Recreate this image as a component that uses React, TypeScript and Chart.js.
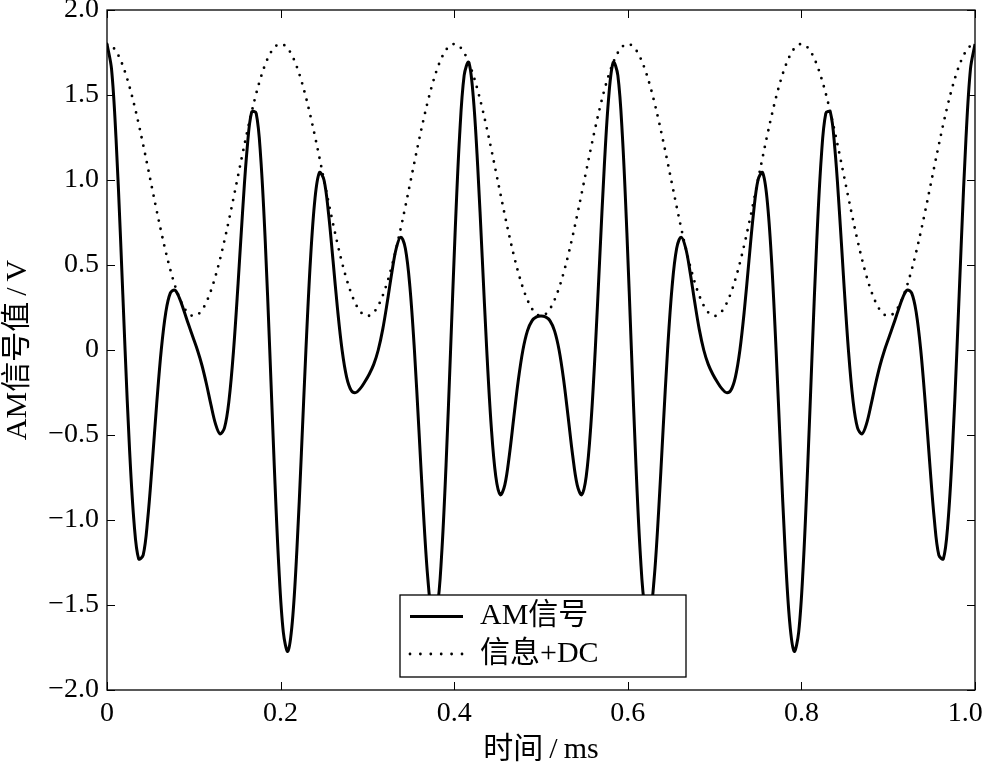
import React, { useEffect, useRef } from "react";
import { Chart, registerables } from "chart.js";

Chart.register(...registerables);

// Sampling step of the traces (ms)
const T_STEP_MS = 1 / 192;

// AM signal (V), t = 0 … 1.0 ms
const AM_SIGNAL_V = [
  1.8, 1.6531, 1.2427, 0.6527, 0, -0.5918, -1.0214, -1.229, -1.207, -0.9963,
  -0.6701, -0.3132, 0, 0.221, 0.3342, 0.3526, 0.3072, 0.2322, 0.1523, 0.0767,
  0, -0.0897, -0.1998, -0.3229, -0.4343, -0.4934, -0.4569, -0.2938, 0, 0.3927,
  0.8175, 1.1843, 1.4, 1.3928, 1.1324, 0.6427, 0, -0.6809, -1.2716, -1.6595,
  -1.7727, -1.5971, -1.1775, -0.6061, 0, 0.527, 0.8889, 1.0443, 1.0, 0.8035,
  0.5253, 0.2384, 0, -0.1593, -0.2367, -0.2507, -0.2273, -0.1883, -0.1426, -0.0845,
  0, 0.1227, 0.2819, 0.455, 0.6, 0.6635, 0.5967, 0.3727, 0, -0.4716,
  -0.9573, -1.3544, -1.5657, -1.5249, -1.2144, -0.6757, 0, 0.6887, 1.2619, 1.6156,
  1.6928, 1.4952, 1.08, 0.5444, 0, -0.4522, -0.7441, -0.8515, -0.793, -0.6188,
  -0.3928, -0.1736, 0, 0.1127, 0.1715, 0.1947, 0.2,
  0.1947, 0.1715, 0.1127, 0, -0.1736, -0.3928, -0.6188, -0.793, -0.8515, -0.7441,
  -0.4522, 0, 0.5444, 1.08, 1.4952, 1.6928, 1.6156, 1.2619, 0.6887, 0,
  -0.6757, -1.2144, -1.5249, -1.5657, -1.3544, -0.9573, -0.4716, 0, 0.3727, 0.5967,
  0.6635, 0.6, 0.455, 0.2819, 0.1227, 0, -0.0845, -0.1426, -0.1883, -0.2273,
  -0.2507, -0.2367, -0.1593, 0, 0.2384, 0.5253, 0.8035, 1.0, 1.0443, 0.8889,
  0.527, 0, -0.6061, -1.1775, -1.5971, -1.7727, -1.6595, -1.2716, -0.6809, 0,
  0.6427, 1.1324, 1.3928, 1.4, 1.1843, 0.8175, 0.3927, 0, -0.2938, -0.4569,
  -0.4934, -0.4343, -0.3229, -0.1998, -0.0897, 0, 0.0767, 0.1523, 0.2322, 0.3072,
  0.3526, 0.3342, 0.221, 0, -0.3132, -0.6701, -0.9963, -1.207, -1.229, -1.0214,
  -0.5918, 0, 0.6527, 1.2427, 1.6531, 1.8,
];

// Message + DC (V), same time grid
const INFO_DC_V = [
  1.8, 1.7893, 1.7575, 1.7055, 1.6347, 1.5465, 1.4445, 1.3302, 1.207, 1.0784,
  0.9477, 0.8183, 0.6938, 0.5775, 0.4726, 0.3816, 0.3072, 0.2513, 0.2154, 0.2004,
  0.2069, 0.2345, 0.2825, 0.3495, 0.4343, 0.534, 0.6462, 0.7678, 0.8956, 1.0262,
  1.1561, 1.2818, 1.4, 1.5075, 1.6014, 1.6795, 1.7391, 1.7791, 1.7983, 1.7962,
  1.7727, 1.7287, 1.6652, 1.5837, 1.487, 1.3771, 1.2571, 1.1303, 1.0, 0.8697,
  0.7429, 0.6229, 0.513, 0.4163, 0.3348, 0.2713, 0.2273, 0.2038, 0.2017, 0.2209,
  0.2609, 0.3205, 0.3986, 0.4925, 0.6, 0.7182, 0.8439, 0.9738, 1.1044, 1.2322,
  1.3538, 1.466, 1.5657, 1.6505, 1.7175, 1.7655, 1.7931, 1.7996, 1.7846, 1.7487,
  1.6928, 1.6184, 1.5274, 1.4225, 1.3062, 1.1817, 1.0523, 0.9216, 0.793, 0.6698,
  0.5555, 0.4535, 0.3653, 0.2945, 0.2425, 0.2107, 0.2,
  0.2107, 0.2425, 0.2945, 0.3653, 0.4535, 0.5555, 0.6698, 0.793, 0.9216, 1.0523,
  1.1817, 1.3062, 1.4225, 1.5274, 1.6184, 1.6928, 1.7487, 1.7846, 1.7996, 1.7931,
  1.7655, 1.7175, 1.6505, 1.5657, 1.466, 1.3538, 1.2322, 1.1044, 0.9738, 0.8439,
  0.7182, 0.6, 0.4925, 0.3986, 0.3205, 0.2609, 0.2209, 0.2017, 0.2038, 0.2273,
  0.2713, 0.3348, 0.4163, 0.513, 0.6229, 0.7429, 0.8697, 1.0, 1.1303, 1.2571,
  1.3771, 1.487, 1.5837, 1.6652, 1.7287, 1.7727, 1.7962, 1.7983, 1.7791, 1.7391,
  1.6795, 1.6014, 1.5075, 1.4, 1.2818, 1.1561, 1.0262, 0.8956, 0.7678, 0.6462,
  0.534, 0.4343, 0.3495, 0.2825, 0.2345, 0.2069, 0.2004, 0.2154, 0.2513, 0.3072,
  0.3816, 0.4726, 0.5775, 0.6938, 0.8183, 0.9477, 1.0784, 1.207, 1.3302, 1.4445,
  1.5465, 1.6347, 1.7055, 1.7575, 1.7893, 1.8,
];

const SERIES_LABELS = ["AM信号", "信息+DC"];
const X_TITLE = "时间\u2009/\u2009ms";
const Y_TITLE = "AM信号值\u2009/\u2009V";
const X_RANGE = [0, 1.0];
const Y_RANGE = [-2.0, 2.0];
const X_STEP = 0.2;
const Y_STEP = 0.5;

const FONT_FAMILY = "'Liberation Serif', 'Times New Roman', 'Noto Sans CJK SC', serif";
const TICK_FONT_SIZE = 28;
const TEXT_FONT_SIZE = 30;

function fmtTick(v: number): string {
  if (Math.abs(v) < 1e-9) return "0";
  const s = Math.abs(v).toFixed(1);
  return v < 0 ? "\u2212" + s : s;
}

const framePlugin = {
  id: "matlabFrame",
  afterDatasetsDraw(chart: any) {
    const { ctx, chartArea: a } = chart;
    const xs = chart.scales.x;
    const ys = chart.scales.y;
    const L = 8;
    ctx.save();
    ctx.strokeStyle = "#000";
    ctx.lineWidth = 1.3;
    ctx.strokeRect(a.left, a.top, a.right - a.left, a.bottom - a.top);
    ctx.lineWidth = 1;
    ctx.beginPath();
    xs.ticks.forEach((t: any) => {
      const px = Math.round(xs.getPixelForValue(t.value)) + 0.5;
      ctx.moveTo(px, a.bottom);
      ctx.lineTo(px, a.bottom - L);
      ctx.moveTo(px, a.top);
      ctx.lineTo(px, a.top + L);
    });
    ys.ticks.forEach((t: any) => {
      const py = Math.round(ys.getPixelForValue(t.value)) + 0.5;
      ctx.moveTo(a.left, py);
      ctx.lineTo(a.left + L, py);
      ctx.moveTo(a.right, py);
      ctx.lineTo(a.right - L, py);
    });
    ctx.stroke();
    ctx.restore();
  },
};

const legendPlugin = {
  id: "insetLegend",
  afterDraw(chart: any) {
    const { ctx, chartArea: a } = chart;
    const bx = a.left + 293;
    const by = a.bottom - 95;
    const bw = 286;
    const bh = 82;
    ctx.save();
    ctx.fillStyle = "#fff";
    ctx.fillRect(bx, by, bw, bh);
    ctx.strokeStyle = "#000";
    ctx.lineWidth = 1.3;
    ctx.strokeRect(bx, by, bw, bh);
    chart.data.datasets.forEach((ds: any, i: number) => {
      const cy = by + 21.5 + i * 37.5;
      ctx.beginPath();
      ctx.setLineDash(ds.borderDash ? [0, 10.4] : []);
      ctx.lineCap = ds.borderCapStyle || "butt";
      ctx.lineWidth = ds.borderWidth;
      ctx.strokeStyle = ds.borderColor;
      ctx.moveTo(bx + 10, cy);
      ctx.lineTo(bx + 63, cy);
      ctx.stroke();
      ctx.setLineDash([]);
      ctx.fillStyle = "#000";
      ctx.font = `${TEXT_FONT_SIZE}px ${FONT_FAMILY}`;
      ctx.textBaseline = "middle";
      ctx.textAlign = "left";
      ctx.fillText(ds.label, bx + 80, cy);
    });
    ctx.restore();
  },
};

export default function App() {
  const canvasRef = useRef<HTMLCanvasElement | null>(null);

  useEffect(() => {
    document.body.style.margin = "0";
    const canvas = canvasRef.current;
    if (!canvas) return;
    const tickFont = { family: FONT_FAMILY, size: TICK_FONT_SIZE };
    const textFont = { family: FONT_FAMILY, size: TEXT_FONT_SIZE };
    const toPoints = (arr: number[]) => arr.map((v, i) => ({ x: i * T_STEP_MS, y: v }));

    const chart = new Chart(canvas, {
      type: "line",
      data: {
        datasets: [
          {
            label: SERIES_LABELS[0],
            data: toPoints(AM_SIGNAL_V),
            borderColor: "#000",
            borderWidth: 3,
            pointRadius: 0,
            tension: 0.35,
            fill: false,
          },
          {
            label: SERIES_LABELS[1],
            data: toPoints(INFO_DC_V),
            borderColor: "#000",
            borderWidth: 2.8,
            borderDash: [0, 8.5],
            borderCapStyle: "round",
            pointRadius: 0,
            tension: 0.35,
            fill: false,
          },
        ],
      },
      options: {
        responsive: false,
        animation: false,
        layout: { padding: { top: 10, right: 8, left: 0, bottom: 0 } },
        plugins: { legend: { display: false }, tooltip: { enabled: false } },
        scales: {
          x: {
            type: "linear",
            min: X_RANGE[0],
            max: X_RANGE[1],
            grid: { display: false, drawTicks: false },
            border: { display: false },
            ticks: {
              stepSize: X_STEP,
              padding: 7,
              autoSkip: false,
              maxRotation: 0,
              color: "#000",
              font: tickFont,
              callback: (v: any) => {
                const n = Number(v);
                if (Math.abs(n - X_RANGE[1]) < 1e-9) return fmtTick(n) + "\u2002\u2009";
                return fmtTick(n);
              },
            },
            title: { display: true, text: X_TITLE, color: "#000", font: textFont, padding: 0 },
            afterFit: (s: any) => {
              s.height = 78;
              s.paddingLeft = 0;
              s.paddingRight = 0;
            },
          },
          y: {
            type: "linear",
            min: Y_RANGE[0],
            max: Y_RANGE[1],
            grid: { display: false, drawTicks: false },
            border: { display: false },
            ticks: {
              stepSize: Y_STEP,
              padding: 8,
              autoSkip: false,
              color: "#000",
              font: tickFont,
              callback: (v: any) => fmtTick(Number(v)),
            },
            title: { display: true, text: Y_TITLE, color: "#000", font: textFont, padding: 0 },
            afterFit: (s: any) => {
              s.width = 107;
              s.paddingTop = 0;
              s.paddingBottom = 0;
            },
          },
        },
      },
      plugins: [framePlugin, legendPlugin],
    } as any);

    return () => chart.destroy();
  }, []);

  return (
    <div style={{ width: 983, height: 768 }}>
      <canvas ref={canvasRef} width={983} height={768} style={{ display: "block" }} />
    </div>
  );
}
